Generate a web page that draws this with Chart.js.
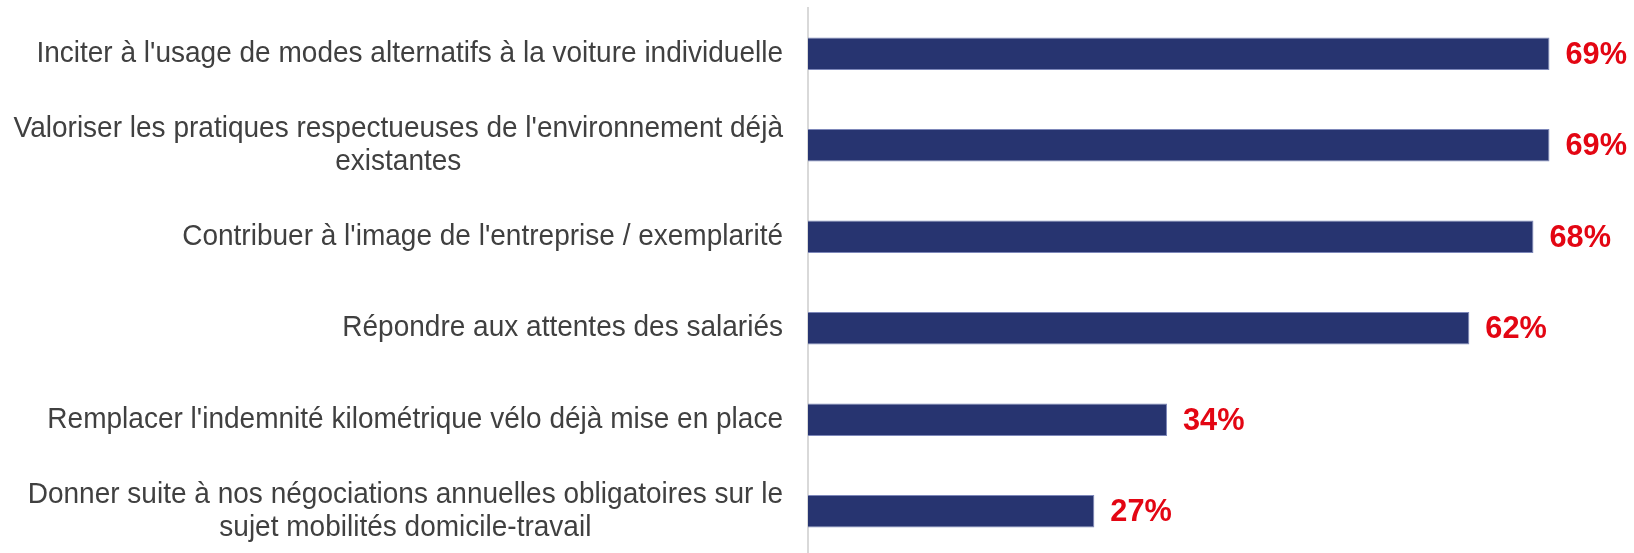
<!DOCTYPE html>
<html>
<head>
<meta charset="utf-8">
<script src="https://cdn.jsdelivr.net/npm/chart.js@4/dist/chart.umd.min.js"></script>
<style>
  html, body { margin: 0; padding: 0; background: #ffffff; overflow: hidden; }
  #wrap { position: relative; width: 1634px; height: 557px; }
</style>
</head>
<body>
<div id="wrap"><canvas id="c"></canvas></div>
<script>
// ---- data ----
const categories = [
  ["Inciter à l'usage de modes alternatifs à la voiture individuelle"],
  ["Valoriser les pratiques respectueuses de l'environnement déjà", "existantes"],
  ["Contribuer à l'image de l'entreprise / exemplarité"],
  ["Répondre aux attentes des salariés"],
  ["Remplacer l'indemnité kilométrique vélo déjà mise en place"],
  ["Donner suite à nos négociations annuelles obligatoires sur le", "sujet mobilités domicile-travail"]
];
const values = [69.4, 69.4, 67.9, 61.9, 33.6, 26.8];
const valueLabels = ["69%", "69%", "68%", "62%", "34%", "27%"];

const FONT = "'Liberation Sans', Arial, Helvetica, sans-serif";

// draws category labels (multi-line centred on their widest line, block right-aligned)
const categoryLabelPlugin = {
  id: 'categoryLabels',
  afterDraw(chart) {
    const ctx = chart.ctx;
    const y = chart.scales.y;
    const rightEdge = chart.chartArea.left - 25;
    const lineH = 33;
    const sx = 0.966;
    ctx.save();
    ctx.font = "29px " + FONT;
    ctx.fillStyle = '#404040';
    ctx.textAlign = 'center';
    ctx.textBaseline = 'middle';
    chart.data.labels.forEach((lines, i) => {
      const cy = y.getPixelForValue(i);
      const widest = Math.max(...lines.map(l => ctx.measureText(l).width)) * sx;
      const cx = rightEdge - widest / 2;
      const startY = cy - (lines.length - 1) * lineH / 2;
      lines.forEach((l, k) => {
        ctx.save();
        ctx.translate(cx, startY + k * lineH);
        ctx.scale(sx, 1);
        ctx.fillText(l, 0, 0);
        ctx.restore();
      });
    });
    ctx.restore();
  }
};

// draws value labels at the end of each bar
const valueLabelPlugin = {
  id: 'valueLabels',
  afterDatasetsDraw(chart) {
    const ctx = chart.ctx;
    const meta = chart.getDatasetMeta(0);
    const sx = 0.96;
    ctx.save();
    ctx.font = "bold 32px " + FONT;
    ctx.fillStyle = '#E30613';
    ctx.textAlign = 'left';
    ctx.textBaseline = 'middle';
    meta.data.forEach((bar, i) => {
      ctx.save();
      ctx.translate(bar.x + 16, bar.y + 1);
      ctx.scale(sx, 1);
      ctx.fillText(valueLabels[i], 0, 0);
      ctx.restore();
    });
    ctx.restore();
  }
};

new Chart(document.getElementById('c'), {
  type: 'bar',
  data: {
    labels: categories,
    datasets: [{
      data: values,
      backgroundColor: '#273470',
      borderColor: '#7d87b9',
      borderWidth: 1,
      barPercentage: 0.356,
      categoryPercentage: 1.0
    }]
  },
  options: {
    indexAxis: 'y',
    responsive: true,
    maintainAspectRatio: false,
    animation: false,
    layout: { padding: { top: 8, right: 14, bottom: 0, left: 0 } },
    plugins: {
      legend: { display: false },
      tooltip: { enabled: false },
      title: { display: false }
    },
    scales: {
      x: {
        display: false,
        min: 0,
        max: 76
      },
      y: {
        position: 'left',
        grid: { display: false },
        border: { display: true, color: '#d9d9d9', width: 2 },
        ticks: { display: false },
        afterFit(scale) { scale.width = 808; }
      }
    }
  },
  plugins: [categoryLabelPlugin, valueLabelPlugin]
});
</script>
</body>
</html>
